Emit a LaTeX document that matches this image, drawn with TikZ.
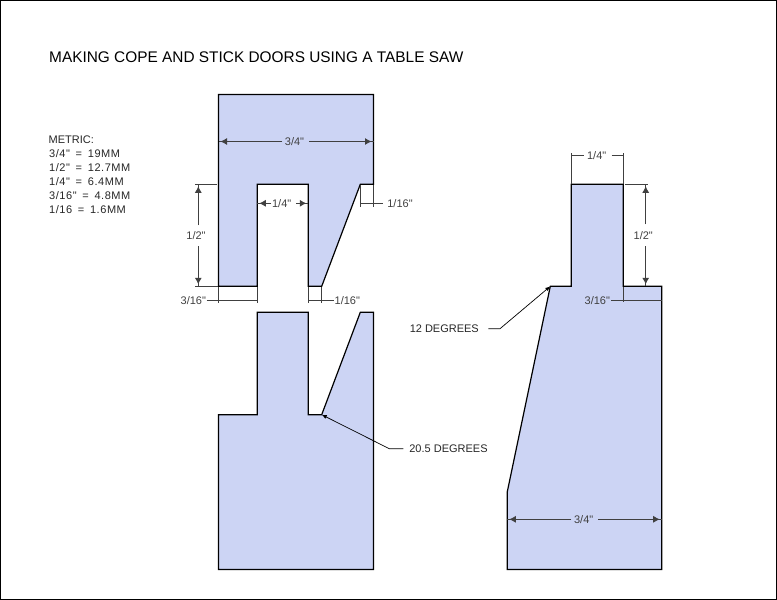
\documentclass[tikz,border=0pt]{standalone}
\usepackage{fontspec}
\newfontfamily\arialf{Liberation Sans}
\newfontfamily\arialw{Liberation Sans}[LetterSpace=5]
\usetikzlibrary{arrows.meta}
\definecolor{wood}{RGB}{204,212,244}
\definecolor{dimc}{RGB}{64,64,64}
\newcommand{\eqgap}{\hspace{5.7pt}=\hspace{5.7pt}}
\tikzset{
 piece/.style={draw=black,fill=wood,line width=1.2pt,line join=miter},
 dimline/.style={draw=dimc,line width=0.85pt},
 dimtip/.style={draw=dimc,line width=0.85pt,-{Latex[length=6.5pt,width=7pt]},shorten >=2pt},
 leadtip/.style={draw=black,line width=0.7pt,-{Latex[length=5pt,width=4pt]}},
 lab/.style={text=dimc,font=\arialf\fontsize{11}{12}\selectfont,inner sep=0pt,anchor=center},
 note/.style={text=black!85,font=\arialf\fontsize{11}{12}\selectfont,inner sep=0pt,anchor=center},
 metricline/.style={text=black!85,font=\arialw\fontsize{11}{12}\selectfont,inner sep=0pt,anchor=west},
}
\begin{document}
\begin{tikzpicture}[x=1pt,y=-1pt]
\useasboundingbox (0,0) rectangle (777,600);
\draw[black,line width=1pt] (0.5,0.5) rectangle (776.5,599.2);
% pieces
\draw[piece] (218.5,94.5) -- (373.5,94.5) -- (373.5,184.3) -- (360.3,184.3) -- (321.7,286.3) -- (308.3,286.3) -- (308.3,184.3) -- (257.3,184.3) -- (257.3,286.3) -- (218.5,286.3) -- cycle;
\draw[piece] (257.3,312.3) -- (308.3,312.3) -- (308.3,414.7) -- (321.7,414.7) -- (360.3,312.3) -- (373.5,312.3) -- (373.5,569.4) -- (218.5,569.4) -- (218.5,414.7) -- (257.3,414.7) -- cycle;
\draw[piece] (571.3,184.3) -- (623.3,184.3) -- (623.3,286.3) -- (661.7,286.3) -- (661.7,569.4) -- (507.3,569.4) -- (507.3,491.7) -- (550.3,286.3) -- (571.3,286.3) -- cycle;
% text
\node[anchor=west,inner sep=0pt,text=black,font=\arialf\fontsize{15.4}{16}\selectfont] (title) at (49,57) {MAKING COPE AND STICK DOORS USING A TABLE SAW};
\node[note,anchor=west] (m0) at (48.5,139.5) {METRIC:};
\node[metricline] (m1) at (49,153.5) {3/4"\eqgap 19MM};
\node[metricline] (m2) at (49,167.5) {1/2"\eqgap 12.7MM};
\node[metricline] (m3) at (49,181.5) {1/4"\eqgap 6.4MM};
\node[metricline] (m4) at (49,195.5) {3/16"\eqgap 4.8MM};
\node[metricline] (m5) at (49,209.5) {1/16\eqgap 1.6MM};
% top 3/4
\node[lab] (a) at (294.5,142) {3/4"};
\coordinate (aL) at (218.5,141.5); \coordinate (aR) at (373.5,141.5);
\coordinate (aLg) at (282,141.5); \coordinate (aRg) at (309,141.5);
\draw[dimline] (aLg) -- (aL); \draw[dimtip] (aLg) -- (aL);
\draw[dimline] (aRg) -- (aR); \draw[dimtip] (aRg) -- (aR);
% upper 1/4
\node[lab] (b) at (281.7,203.5) {1/4"};
\coordinate (bL) at (257.3,203.3); \coordinate (bR) at (308.3,203.3);
\coordinate (bLg) at (271,203.3); \coordinate (bRg) at (296,203.3);
\draw[dimline] (bLg) -- (bL); \draw[dimtip] (bLg) -- (bL);
\draw[dimline] (bRg) -- (bR); \draw[dimtip] (bRg) -- (bR);
% upper 1/2
\node[lab] (c) at (196,236) {1/2"};
\coordinate (cT) at (198.3,184.3); \coordinate (cB) at (198.3,286.3);
\coordinate (cTg) at (198.3,225); \coordinate (cBg) at (198.3,246);
\draw[dimline] (cTg) -- (cT); \draw[dimtip] (cTg) -- (cT);
\draw[dimline] (cBg) -- (cB); \draw[dimtip] (cBg) -- (cB);
\coordinate (c1) at (195,184.3); \coordinate (c2) at (217,184.3);
\coordinate (c3) at (195,286.3); \coordinate (c4) at (218,286.3);
\draw[dimline] (c1) -- (c2); \draw[dimline] (c3) -- (c4);
% left 3/16
\node[lab] (d) at (193.3,301) {3/16"};
\coordinate (d1) at (218.5,287); \coordinate (d2) at (218.5,302.7);
\coordinate (d3) at (257.3,287); \coordinate (d4) at (257.3,302.7);
\coordinate (d5) at (206.7,300.7); \coordinate (d6) at (257.3,300.7);
\draw[dimline] (d1) -- (d2); \draw[dimline] (d3) -- (d4); \draw[dimline] (d5) -- (d6);
% lower 1/16
\node[lab] (e) at (347.3,301) {1/16"};
\coordinate (e1) at (308.3,287); \coordinate (e2) at (308.3,302.7);
\coordinate (e3) at (321.4,287); \coordinate (e4) at (321.4,302.7);
\coordinate (e5) at (308.3,300.7); \coordinate (e6) at (334,300.7);
\draw[dimline] (e1) -- (e2); \draw[dimline] (e3) -- (e4); \draw[dimline] (e5) -- (e6);
% upper 1/16
\node[lab] (f) at (400,203.5) {1/16"};
\coordinate (f1) at (360.3,185); \coordinate (f2) at (360.3,206.7);
\coordinate (f3) at (373.3,185); \coordinate (f4) at (373.3,206.7);
\coordinate (f5) at (360.3,203.3); \coordinate (f6) at (383.3,203.3);
\draw[dimline] (f1) -- (f2); \draw[dimline] (f3) -- (f4); \draw[dimline] (f5) -- (f6);
% right 1/4
\node[lab] (g) at (596.7,155.5) {1/4"};
\coordinate (g1) at (571.3,153.3); \coordinate (g2) at (571.3,184);
\coordinate (g3) at (623.3,153.3); \coordinate (g4) at (623.3,184);
\coordinate (g5) at (584.3,155); \coordinate (g6) at (611.7,155);
\draw[dimline] (g1) -- (g2); \draw[dimline] (g3) -- (g4);
\draw[dimline] (g1|-g5) -- (g5); \draw[dimline] (g6) -- (g3|-g6);
% right 1/2
\node[lab] (h) at (643.3,236) {1/2"};
\coordinate (hT) at (645.7,184.3); \coordinate (hB) at (645.7,286.3);
\coordinate (hTg) at (645.7,224); \coordinate (hBg) at (645.7,246);
\draw[dimline] (hTg) -- (hT); \draw[dimtip] (hTg) -- (hT);
\draw[dimline] (hBg) -- (hB); \draw[dimtip] (hBg) -- (hB);
\coordinate (h1) at (625,184.3); \coordinate (h2) at (647.7,184.3);
\draw[dimline] (h1) -- (h2);
% right 3/16
\node[lab] (i) at (597.3,301) {3/16"};
\coordinate (i1) at (623.3,287); \coordinate (i2) at (623.3,302.3);
\coordinate (i3) at (611.3,300.7); \coordinate (i4) at (661.7,300.7);
\draw[dimline] (i1) -- (i2); \draw[dimline] (i3) -- (i4);
% bottom 3/4
\node[lab] (j) at (583.7,519.5) {3/4"};
\coordinate (jL) at (507.3,519.3); \coordinate (jR) at (661.7,519.3);
\coordinate (jLg) at (571,519.3); \coordinate (jRg) at (598.3,519.3);
\draw[dimline] (jLg) -- (jL); \draw[dimtip] (jLg) -- (jL);
\draw[dimline] (jRg) -- (jR); \draw[dimtip] (jRg) -- (jR);
% angle notes
\node[note] (k) at (444.3,329) {12 DEGREES};
\coordinate (k1) at (488.3,328.7); \coordinate (k2) at (500,328.7); \coordinate (k3) at (550.3,286.3);
\draw[leadtip] (k1) -- (k2) -- (k3);
\node[note] (l) at (448.5,449) {20.5 DEGREES};
\coordinate (l1) at (403.3,448.7); \coordinate (l2) at (389.3,448.7); \coordinate (l3) at (321.7,414.7);
\draw[leadtip] (l1) -- (l2) -- (l3);
\end{tikzpicture}
\end{document}
